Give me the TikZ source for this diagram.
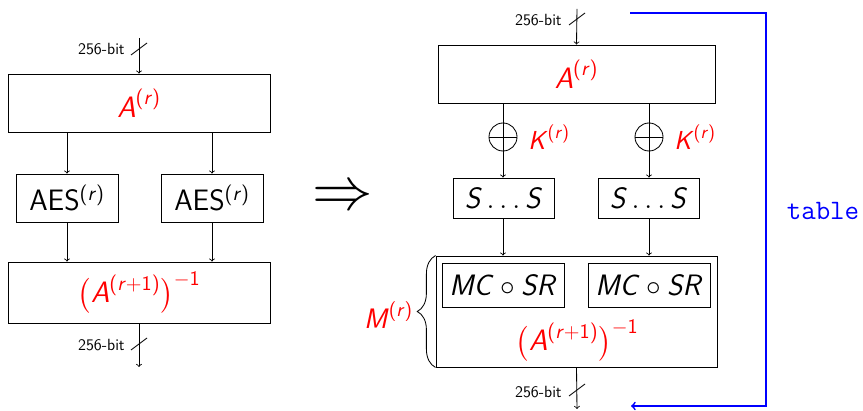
\documentclass[tikz,border=0pt]{standalone}
\usepackage{graphicx}
\usepackage{amsmath}
\usetikzlibrary{decorations.pathreplacing,calc}
\newcommand{\iv}[1]{\text{\sffamily\itshape #1\/}}
\newcommand{\up}[1]{\text{\sffamily\upshape #1}}
\newcommand{\supr}{^{\up{(}\iv{r}\up{)}}}
\newcommand{\invA}{\bigl(\iv{A}^{\up{(}\iv{r}\up{+1)}}\bigr)^{-\up{1}}}
\tikzset{
  box/.style={draw, line width=0.6pt, inner sep=0pt, font=\fontsize{21}{25}\selectfont\sffamily},
  big/.style={inner sep=0pt, font=\fontsize{21}{25}\selectfont\sffamily},
  arr/.style={->, line width=0.6pt},
  thin/.style={line width=0.6pt},
  bits/.style={anchor=east, inner sep=0pt, font=\fontsize{11.5}{13}\selectfont\sffamily},
  xorc/.style={circle, draw, line width=0.6pt, minimum size=0.7cm, inner sep=0pt},
  klab/.style={anchor=west, inner sep=0pt, text=red, font=\fontsize{18.5}{22}\selectfont\sffamily},
  feedback/.style={draw=blue, line width=1.2pt, ->}
}
\begin{document}
\begin{tikzpicture}[x=0.025cm, y=-0.025cm]
\useasboundingbox (0,0) rectangle (863,411);

% ---------- left side ----------
\node[box, minimum width=6.55cm, minimum height=1.45cm, text=red] (LA) at (139,103) {$\iv{A}\supr$};
\node[box, minimum width=2.55cm, minimum height=1.2cm] (aes1) at (67,198) {AES$\supr$};
\node[box, minimum width=2.55cm, minimum height=1.2cm] (aes2) at (212,198) {AES$\supr$};
\node[box, minimum width=6.55cm, minimum height=1.525cm, text=red] (LB) at (139,292.5) {$\invA$};

\coordinate (lin) at (139,38);
\coordinate (lout) at (139,367);
\coordinate (ls1) at (139,49);
\coordinate (ls2) at (139,344);
\draw[arr] (lin) -- (LA.north);
\draw[thin] (ls1) +(-8,6) -- +(8,-6);
\node[bits] (lb1) at (125,49) {256-bit};
\draw[arr] (LA.south -| aes1.north) -- (aes1.north);
\draw[arr] (LA.south -| aes2.north) -- (aes2.north);
\draw[arr] (aes1.south) -- (aes1.south |- LB.north);
\draw[arr] (aes2.south) -- (aes2.south |- LB.north);
\draw[arr] (LB.south) -- (lout);
\draw[thin] (ls2) +(-8,6) -- +(8,-6);
\node[bits] (lb2) at (125,345) {256-bit};

% ---------- implies ----------
\node[inner sep=0pt] (imp) at (343,198) {\resizebox{43pt}{!}{$\Rightarrow$}};

% ---------- right side ----------
\node[box, minimum width=6.925cm, minimum height=1.45cm, text=red] (RA) at (576.5,74) {$\iv{A}\supr$};
\coordinate (rin) at (577,9);
\coordinate (rs1) at (577,19);
\draw[arr] (rin) -- (RA.north);
\draw[thin] (rs1) +(-8,6) -- +(8,-6);
\node[bits] (rb1) at (562,20) {256-bit};

\node[xorc] (x1) at (503,137) {};
\node[xorc] (x2) at (649,137) {};
\draw[thin] (x1.west) -- (x1.east);
\draw[thin] (x2.west) -- (x2.east);
\node[klab] (k1) at (528,137) {$\iv{K}\supr$};
\node[klab] (k2) at (674,137) {$\iv{K}\supr$};

\node[box, minimum width=2.525cm, minimum height=1cm] (s1) at (503.5,198) {$\iv{S}\ldots\iv{S}$};
\node[box, minimum width=2.525cm, minimum height=1cm] (s2) at (648.5,198) {$\iv{S}\ldots\iv{S}$};

\draw[thin] (RA.south -| x1.north) -- (x1.south);
\draw[thin] (RA.south -| x2.north) -- (x2.south);
\draw[arr] (x1.south) -- (x1.south |- s1.north);
\draw[arr] (x2.south) -- (x2.south |- s2.north);

\node[box, minimum width=7.025cm, minimum height=2.775cm] (M) at (576.5,311.5) {};
\node[box, minimum width=3.05cm, minimum height=1.1cm] (mc1) at (503,285) {$\iv{MC}\circ\iv{SR}$};
\node[box, minimum width=3.05cm, minimum height=1.1cm] (mc2) at (649,285) {$\iv{MC}\circ\iv{SR}$};
\node[big, text=red] (inv) at (577,340.5) {$\invA$};

\draw[arr] (s1.south -| x1.south) -- (x1.south |- M.north);
\draw[arr] (s2.south -| x2.south) -- (x2.south |- M.north);

\draw[thin, decorate, decoration={brace, amplitude=13pt}] (M.south west) -- (M.north west);
\node[big, anchor=east, text=red, font=\fontsize{20}{24}\selectfont\sffamily] (Mr) at (413,315) {$\iv{M}\supr$};

\coordinate (rout) at (577,409);
\coordinate (rs2) at (577,390);
\draw[arr] (M.south) -- (rout);
\draw[thin] (rs2) +(-8,6) -- +(8,-6);
\node[bits] (rb2) at (562,392) {256-bit};

% ---------- feedback ----------
\coordinate (bt1) at (630,13);
\coordinate (bt2) at (631,406);
\coordinate (bc) at (766,210);
\draw[feedback] (bt1) -| (bc) |- (bt2);
\node[text=blue, inner sep=0pt, font=\fontsize{20}{24}\selectfont\ttfamily] (tbl) at (823,211) {table};
\end{tikzpicture}
\end{document}
